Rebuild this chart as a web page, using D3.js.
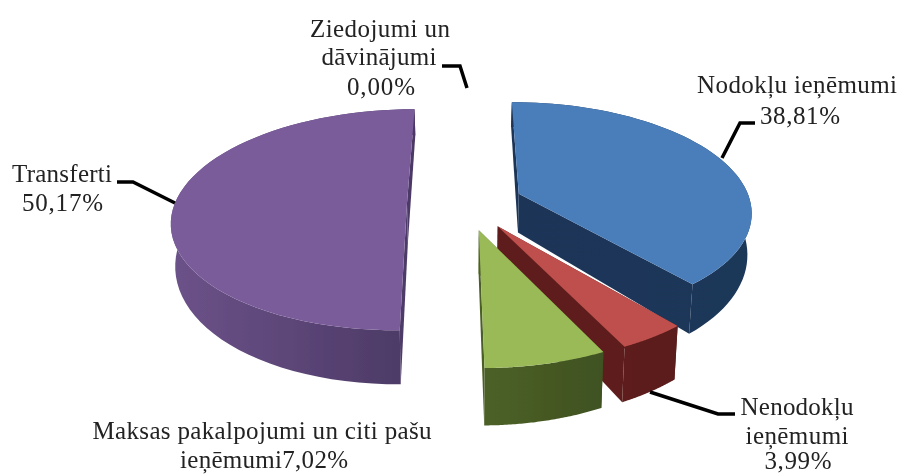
<!DOCTYPE html>
<html>
<head>
<meta charset="utf-8">
<script src="https://cdn.jsdelivr.net/npm/d3@7"></script>
<style>
html,body{margin:0;padding:0;background:#fff;overflow:hidden}
svg{display:block}
text{font-family:"Liberation Serif",serif;font-size:25px;fill:#222;text-anchor:middle}
</style>
</head>
<body>
<svg id="c" width="901" height="474"></svg>
<script>
const categories = ["Nodokļu ieņēmumi","Nenodokļu ieņēmumi","Maksas pakalpojumi un citi pašu ieņēmumi","Transferti","Ziedojumi un dāvinājumi"];
const shares = [38.81,3.99,7.02,50.17,0.00];
const topColors = ["#4a7ebb","#bf504d","#9aba59","#7a5c9b"];
const wallLeft = ["#1c3557","#5e1f1d","#4c6127","#6c5289"];
const wallRight = ["#1d3759","#5a1c1b","#3f5120","#4b3965"];
const labelLines = [
  [["Nodokļu ieņēmumi",797,93,200],["38,81%",800,124,80]],
  [["Nenodokļu",797,415,113],["ieņēmumi",797,444,103],["3,99%",798,469,67]],
  [["Maksas pakalpojumi un citi pašu",262,439,339],["ieņēmumi7,02%",264,468,168]],
  [["Transferti",62,182,100],["50,17%",62.5,211,81]],
  [["Ziedojumi un",380,37,140],["dāvinājumi",379,65,115],["0,00%",381,95,68]]
];
const leaders = [
  [[755,123],[740,123],[722,158]],
  [[735,414],[718,414],[650,392]],
  [[117,182],[133,182],[175,203]],
  [[442,66],[460,66],[467,88]]
];

const svg = d3.select("#c");
const explode = 0.25, persp = 0.15;
const sx = d3.scaleLinear().domain([-1,1]).range([465-232,465+232]);
const sy = d3.scaleLinear().domain([-1,1]).range([203-108,203+108]);
const wallDrop = d3.scaleLinear().domain([0,1]).range([40,54]);

function project(X,Y,low){
  const w = 1 - persp*Y;
  let x = 465 + (sx(X)-465)/w;
  let y = 203 + (sy(Y)-203)/w;
  if(low){ x = 465 + (x-465)*0.985; y += wallDrop(Y); }
  return [x,y];
}
const pie = d3.pie().sort(null).value(d=>d);
const arcs = pie(shares);
const line = d3.line();
const defs = svg.append("defs");
defs.append("filter").attr("id","soft").append("feGaussianBlur").attr("stdDeviation",0.45);
const root = svg.append("g").attr("filter","url(#soft)");

function drawSlice(a,i){
  const mid = (a.startAngle+a.endAngle)/2;
  const ox = Math.sin(mid)*explode, oy = -Math.cos(mid)*explode;
  const rim = t => [ox+Math.sin(t), oy-Math.cos(t)];
  const angles = d3.range(0,61).map(k=>a.startAngle+(a.endAngle-a.startAngle)*k/60);
  const model = angles.map(rim);
  const topPts = model.map(p=>project(p[0],p[1],false));
  const lowPts = model.map(p=>project(p[0],p[1],true));
  const apexT = project(ox,oy,false), apexL = project(ox,oy,true);
  const xs = topPts.map(p=>p[0]);
  const id = "w"+i;
  const g = defs.append("linearGradient").attr("id",id).attr("gradientUnits","userSpaceOnUse")
    .attr("x1",d3.min(xs)).attr("x2",d3.max(xs)).attr("y1",0).attr("y2",0);
  g.append("stop").attr("offset",0).attr("stop-color",wallLeft[i]);
  g.append("stop").attr("offset",1).attr("stop-color",wallRight[i]);
  const fill = "url(#"+id+")";
  [[apexT,topPts[0],lowPts[0],apexL],[apexT,topPts[60],lowPts[60],apexL]].forEach(f=>{
    root.append("path").attr("d",line(f)+"Z").attr("fill",fill);
  });
  root.append("path").attr("d",line(topPts.concat(lowPts.slice().reverse()))+"Z").attr("fill",fill);
  root.append("path").attr("d",line([apexT].concat(topPts))+"Z").attr("fill",topColors[i]);
}
[3,0,1,2].forEach(i=>drawSlice(arcs[i],i));

leaders.forEach(l=>{
  root.append("path").attr("d",line(l)).attr("fill","none").attr("stroke","#000").attr("stroke-width",3.5);
});
labelLines.forEach(ls=>ls.forEach(t=>{
  root.append("text").attr("x",t[1]).attr("y",t[2]).attr("textLength",t[3]).text(t[0]);
}));
</script>
</body>
</html>
